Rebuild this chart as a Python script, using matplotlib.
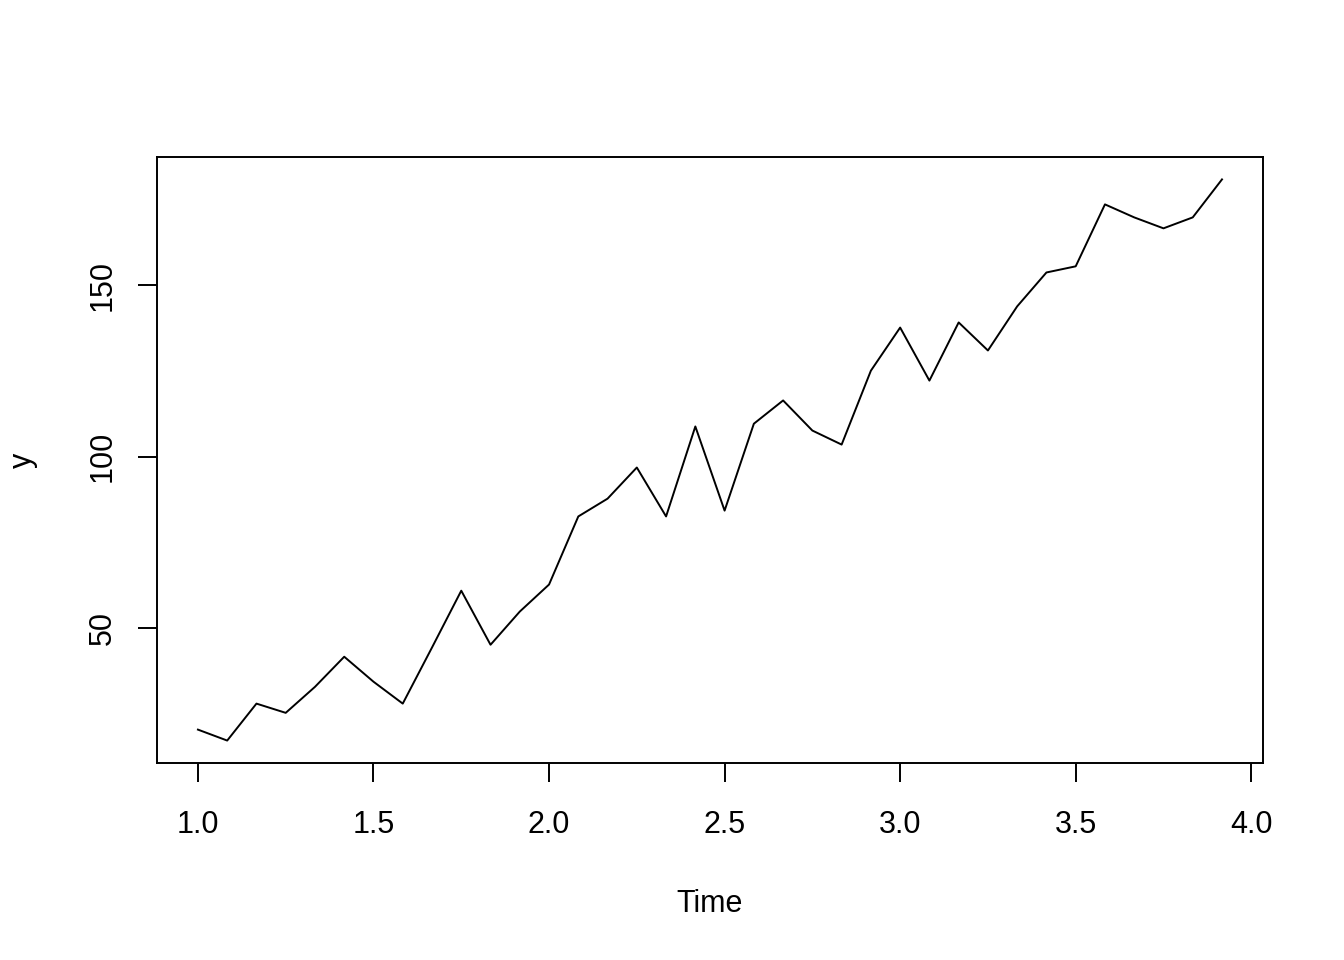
import numpy as np
import matplotlib
matplotlib.use('Agg')
import matplotlib.pyplot as plt

plt.rcParams['font.family'] = ['Liberation Sans', 'DejaVu Sans']

# monthly series, 3 years starting at 1.0
t_start = 1.0
freq = 12
y = [20.2, 17.0, 27.8, 25.1, 32.7, 41.5, 34.2, 27.8, 44.2, 60.8, 45.0, 54.7,
     62.6, 82.5, 87.7, 96.8, 82.5, 108.8, 84.2, 109.6, 116.4, 107.6, 103.5, 125.1,
     137.7, 122.2, 139.2, 131.0, 143.9, 153.8, 155.6, 173.7, 169.9, 166.7, 169.9, 181.0]
xticks = [1.0, 1.5, 2.0, 2.5, 3.0, 3.5, 4.0]
yticks = [50, 100, 150]

time = t_start + np.arange(len(y)) / freq

fig = plt.figure(figsize=(13.44, 9.6), dpi=100)
ax = fig.add_axes([0.1168, 0.2052, 0.8229, 0.6313])
ax.plot(time, y, color='black', linewidth=1.4)

# R style 4% padding
xr = time.max() - time.min()
ax.set_xlim(time.min() - 0.04 * xr, time.max() + 0.04 * xr)
yr = max(y) - min(y)
ax.set_ylim(min(y) - 0.04 * yr, max(y) + 0.04 * yr)

fs = 22
ax.set_xticks(xticks)
ax.set_xticklabels(['%.1f' % v for v in xticks])
ax.set_yticks(yticks)
ax.set_yticklabels([str(v) for v in yticks], rotation=90, va='center')
ax.tick_params(direction='out', length=14, width=1.4, labelsize=fs, pad=20)
ax.tick_params(axis='y', pad=14)
for s in ax.spines.values():
    s.set_linewidth(1.4)

ax.set_xlabel('Time', fontsize=fs, labelpad=35)
ax.set_ylabel('y', fontsize=fs, labelpad=36)

fig.savefig('out.png', dpi=100)
